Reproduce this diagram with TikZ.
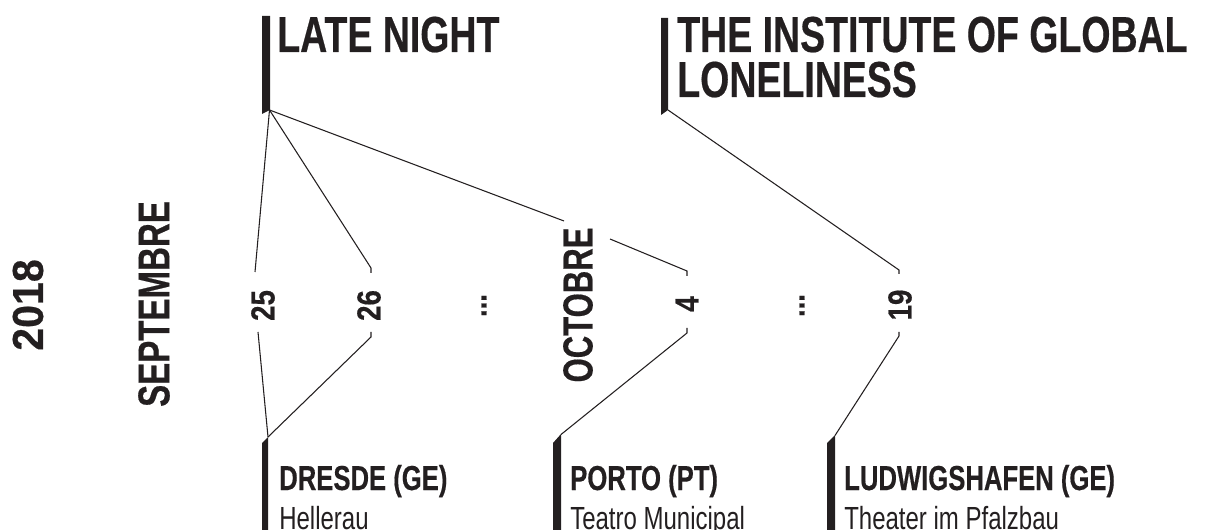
\documentclass[tikz,border=0pt]{standalone}
\usepackage{fontspec}
\setmainfont{Liberation Sans}
\newfontfamily\condfont{Liberation Sans}[FakeStretch=0.75]
\newfontfamily\condbold{Liberation Sans}[FakeStretch=0.74,FakeBold=0.4]
\newfontfamily\yearfont{Liberation Sans}[FakeStretch=0.95,FakeBold=0.4]
\newfontfamily\dayfont{Liberation Sans}[FakeStretch=0.83,FakeBold=0.4]
\definecolor{ink}{HTML}{231F20}
\tikzset{
  title/.style={anchor=base west, inner sep=0pt, text=ink, font=\condbold\bfseries\fontsize{38}{33.75}\selectfont, align=left},
  place/.style={anchor=base west, inner sep=0pt, text=ink, font=\condbold\bfseries\fontsize{26}{30}\selectfont},
  venue/.style={anchor=base west, inner sep=0pt, text=ink, font=\condfont\fontsize{24}{28}\selectfont},
  month/.style={rotate=90, inner sep=0pt, text=ink, font=\condbold\bfseries\fontsize{33.5}{36}\selectfont},
  year/.style={rotate=90, inner sep=0pt, text=ink, font=\yearfont\bfseries\fontsize{32.5}{36}\selectfont},
  day/.style={rotate=90, inner sep=0pt, text=ink, font=\dayfont\bfseries\fontsize{25}{28}\selectfont},
  conn/.style={draw=ink, line width=0.8pt, line join=miter},
  bar/.style={fill=ink, draw=none}
}
\begin{document}
\begin{tikzpicture}[x=0.75pt,y=-0.75pt]
\useasboundingbox (0,0) rectangle (1205,530);
% bars
\fill[bar] (262,16) -- (270,16) -- (270,110) -- (262,114) -- cycle;
\fill[bar] (661,18) -- (668,18) -- (668,110) -- (661,115) -- cycle;
\fill[bar] (262,443) -- (268,437) -- (268,540) -- (262,540) -- cycle;
\fill[bar] (553,443) -- (561,434) -- (561,540) -- (553,540) -- cycle;
\fill[bar] (827,443) -- (835,435) -- (835,540) -- (827,540) -- cycle;
\coordinate (ln) at (269.5,110);
\coordinate (inst) at (668,110);
\coordinate (dres) at (268,437);
\coordinate (port) at (561,434.5);
\coordinate (lud) at (835,435.5);
% titles
\node[title] (latenight) at (277,52) {LATE NIGHT};
\node[title] (institute) at (677,97) {THE INSTITUTE OF GLOBAL\\LONELINESS};
% places
\node[place] (dresde) at (279,490) {DRESDE (GE)};
\node[venue] (hellerau) at (279,529) {Hellerau};
\node[place] (porto) at (570,490) {PORTO (PT)};
\node[venue] (teatro) at (570,529) {Teatro Municipal};
\node[place] (ludwig) at (844,490) {LUDWIGSHAFEN (GE)};
\node[venue] (pfalzbau) at (844,529) {Theater im Pfalzbau};
% year and months
\node[year] (year) at (28,305) {2018};
\node[month] (sept) at (154,304) {SEPTEMBRE};
\node[month, font=\condbold\bfseries\fontsize{31.5}{36}\selectfont] (oct) at (578,305) {OCTOBRE};
% days
\node[day] (d25) at (263,305.5) {25};
\node[day] (d26) at (369,305.5) {26};
\node[day] (dots1) at (484,305.5) {...};
\node[day] (d4) at (687,304) {4};
\node[day] (dots2) at (802,305.5) {...};
\node[day] (d19) at (900,305) {19};
% connector points
\coordinate (d25t) at (255,272);
\coordinate (d25b) at (258,332);
\coordinate (d26tt) at (371,268);
\coordinate (d26t) at (371,273);
\coordinate (d26b) at (371,332);
\coordinate (d26bb) at (371,337);
\coordinate (o1) at (564,221);
\coordinate (o2) at (610,239);
\coordinate (d4tt) at (687,271);
\coordinate (d4t) at (687,276);
\coordinate (d4b) at (687,328);
\coordinate (d4bb) at (687,333);
\coordinate (d19tt) at (899,270);
\coordinate (d19t) at (899,274);
\coordinate (d19b) at (899,332);
\coordinate (d19bb) at (899,336);
% connectors
\draw[conn] (ln) -- (d25t);
\draw[conn] (ln) -- (d26tt) -- (d26t);
\draw[conn] (ln) -- (o1);
\draw[conn] (o2) -- (d4tt) -- (d4t);
\draw[conn] (inst) -- (d19tt) -- (d19t);
\draw[conn] (d25b) -- (dres);
\draw[conn] (d26b) -- (d26bb) -- (dres);
\draw[conn] (d4b) -- (d4bb) -- (port);
\draw[conn] (d19b) -- (d19bb) -- (lud);
\end{tikzpicture}
\end{document}
